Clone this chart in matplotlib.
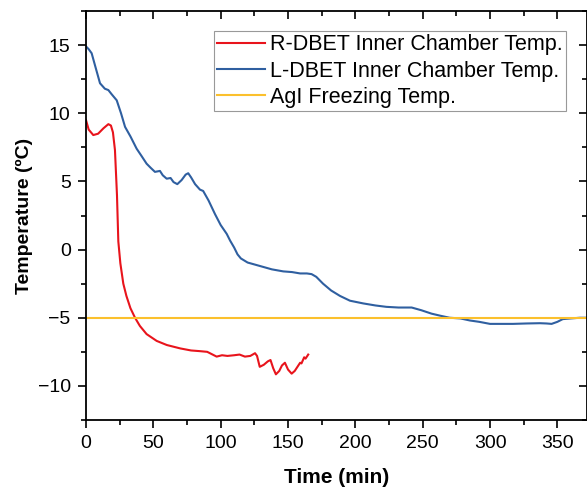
import matplotlib
matplotlib.use("Agg")
import matplotlib.pyplot as plt
from matplotlib.ticker import MultipleLocator

plt.rcParams['font.family'] = ['Liberation Sans', 'DejaVu Sans']

# R-DBET inner chamber temperature
r_time = [0, 2, 5.4, 9, 13, 16.6, 18.5, 20, 21.5, 23, 24, 25.5, 27.7, 30, 33, 36.4, 40, 45, 52.5,
          60, 70, 78, 84.6, 90, 94, 97, 101, 105, 110, 114, 118, 122, 125.5, 127, 129, 132,
          135, 137, 139, 141, 143.5, 145.5, 147.7, 150, 152.7, 155, 157, 159, 160, 162, 163, 165]
r_temp = [9.5, 8.8, 8.4, 8.5, 8.9, 9.2, 9.1, 8.6, 7.3, 4.0, 0.6, -1.0, -2.5, -3.4, -4.3, -5.0, -5.6,
          -6.2, -6.7, -7.0, -7.25, -7.4, -7.45, -7.5, -7.7, -7.85, -7.75, -7.8, -7.75, -7.7, -7.85,
          -7.8, -7.6, -7.8, -8.6, -8.45, -8.2, -8.1, -8.7, -9.15, -8.9, -8.5, -8.3, -8.8, -9.1,
          -8.9, -8.6, -8.3, -8.35, -7.9, -8.0, -7.7]

# L-DBET inner chamber temperature
l_time = [0, 2, 4.2, 7, 10.4, 14, 16.6, 19, 22.8, 26, 29, 33, 37.6, 41, 45, 48, 51.2, 54.9, 57,
          59.9, 62.8, 65, 67.8, 71, 74, 75.9, 78, 81, 84.6, 87, 91, 95.8, 100, 104.5, 107, 110,
          112.5, 115, 120, 129, 138, 146.5, 153, 159, 164, 167.5, 171, 176, 182, 188.6, 196,
          205.9, 215, 223, 232, 241.8, 249, 256.6, 263, 270, 278, 285, 292, 300, 308, 317, 327,
          337, 342, 345.7, 350, 354, 360, 366.7, 372]
l_temp = [14.9, 14.7, 14.4, 13.4, 12.2, 11.8, 11.7, 11.4, 10.95, 10.0, 9.0, 8.3, 7.4, 6.9, 6.3,
          6.0, 5.7, 5.77, 5.45, 5.2, 5.25, 4.95, 4.8, 5.1, 5.5, 5.6, 5.3, 4.8, 4.4, 4.3, 3.6, 2.6,
          1.8, 1.15, 0.66, 0.15, -0.35, -0.65, -0.95, -1.2, -1.45, -1.6, -1.65, -1.75, -1.75,
          -1.8, -2.0, -2.5, -3.0, -3.4, -3.75, -3.95, -4.1, -4.2, -4.25, -4.25, -4.45, -4.7,
          -4.85, -5.0, -5.05, -5.2, -5.3, -5.45, -5.45, -5.45, -5.42, -5.4, -5.42, -5.45, -5.3,
          -5.1, -5.05, -5.0, -5.0]

freeze_temp = -5
x_max = 372

fig = plt.figure(figsize=(5.87, 4.88), dpi=100)
ax = fig.add_axes([86 / 587, 68 / 488, 501 / 587, 409 / 488])

ax.plot(r_time, r_temp, color='#e8141c', lw=1.5, label='R-DBET Inner Chamber Temp.')
ax.plot(l_time, l_temp, color='#2f5fa0', lw=1.5, label='L-DBET Inner Chamber Temp.')
ax.axhline(freeze_temp, color='#fbc02d', lw=1.5, label='AgI Freezing Temp.')

ax.set_xlim(0, x_max)
ax.set_ylim(-12.5, 17.5)
ax.xaxis.set_major_locator(MultipleLocator(50))
ax.xaxis.set_minor_locator(MultipleLocator(25))
ax.yaxis.set_major_locator(MultipleLocator(5))
ax.yaxis.set_minor_locator(MultipleLocator(2.5))
ax.tick_params(which='both', top=True, right=True, labelsize=14, width=1.2, pad=5)
ax.tick_params(which='major', length=6)
ax.tick_params(which='minor', length=3.5)
for t in ax.xaxis.get_major_ticks() + ax.xaxis.get_minor_ticks():
    t.tick2line.set_marker(3)
for t in ax.yaxis.get_major_ticks() + ax.yaxis.get_minor_ticks():
    t.tick2line.set_marker(0)
for s in ax.spines.values():
    s.set_linewidth(1.3)

ax.set_xlabel('Time (min)', fontsize=15, fontweight='bold', labelpad=11)
ax.set_ylabel('Temperature (ºC)', fontsize=14, fontweight='bold', labelpad=3.5)

leg = ax.legend(loc='upper right', bbox_to_anchor=(566 / 587, 1 - 31 / 488),
                bbox_transform=fig.transFigure, fontsize=15.5, fancybox=False,
                edgecolor='#999999', framealpha=1, handlelength=2.2,
                borderpad=0.15, labelspacing=0.25, handletextpad=0.25, borderaxespad=0)
leg.get_frame().set_linewidth(0.8)

fig.savefig('out.png', dpi=100)
